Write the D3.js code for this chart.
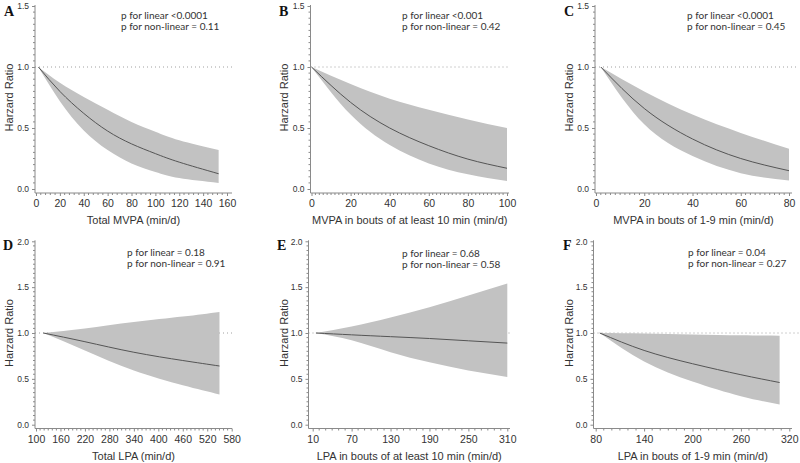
<!DOCTYPE html>
<html>
<head>
<meta charset="utf-8">
<script src="https://cdn.jsdelivr.net/npm/d3@7"></script>
<style>
  body { margin: 0; background: #fff; }
  svg { display: block; }
</style>
</head>
<body>
<svg id="chart" width="800" height="463"></svg>
<script>
// Data (hazard ratio curves with 95% CI)
const xA = [2, 20, 40, 60, 80, 100, 120, 153];
const hrA = [1.0, 0.80, 0.62, 0.475, 0.37, 0.29, 0.22, 0.125];
const upA = [1.0, 0.87, 0.755, 0.65, 0.55, 0.47, 0.40, 0.32];
const loA = [1.0, 0.72, 0.48, 0.32, 0.21, 0.14, 0.09, 0.05];

const xB = [0, 20, 40, 60, 80, 100];
const hrB = [1.0, 0.71, 0.50, 0.355, 0.245, 0.17];
const upB = [1.0, 0.86, 0.74, 0.65, 0.57, 0.50];
const loB = [1.0, 0.61, 0.36, 0.21, 0.12, 0.065];

const xC = [2, 20, 40, 60, 80];
const hrC = [1.0, 0.66, 0.41, 0.25, 0.15];
const upC = [1.0, 0.80, 0.61, 0.46, 0.33];
const loC = [1.0, 0.53, 0.27, 0.13, 0.07];

const xD = [118, 220, 340, 460, 550];
const hrD = [1.0, 0.905, 0.79, 0.70, 0.64];
const upD = [1.0, 1.05, 1.12, 1.18, 1.23];
const loD = [1.0, 0.81, 0.59, 0.43, 0.33];

const xE = [15, 70, 130, 190, 250, 310];
const hrE = [1.0, 0.98, 0.96, 0.94, 0.915, 0.89];
const upE = [1.0, 1.07, 1.17, 1.28, 1.41, 1.54];
const loE = [1.0, 0.92, 0.79, 0.68, 0.59, 0.52];

const xF = [85, 140, 200, 260, 308];
const hrF = [1.0, 0.81, 0.665, 0.545, 0.46];
const upF = [1.0, 0.995, 0.985, 0.975, 0.97];
const loF = [1.0, 0.69, 0.47, 0.31, 0.22];

// Tick labels
const xTicksA = [0, 20, 40, 60, 80, 100, 120, 140, 160];
const xTicksB = [0, 20, 40, 60, 80, 100];
const xTicksC = [0, 20, 40, 60, 80];
const xTicksD = [100, 160, 220, 280, 340, 400, 460, 520, 580];
const xTicksE = [10, 70, 130, 190, 250, 310];
const xTicksF = [80, 140, 200, 260, 320];
const yTicksTop = [0.0, 0.5, 1.0, 1.5];
const yTicksBottom = [0.0, 0.5, 1.0, 1.5, 2.0];

const letters = ['A', 'B', 'C', 'D', 'E', 'F'];
const xTitles = ['Total MVPA (min/d)', 'MVPA in bouts of at least 10 min (min/d)',
  'MVPA in bouts of 1-9 min (min/d)', 'Total LPA (min/d)',
  'LPA in bouts of at least 10 min (min/d)', 'LPA in bouts of 1-9 min (min/d)'];
const pLinear = ['p for linear <0.0001', 'p for linear <0.001', 'p for linear <0.0001',
  'p for linear = 0.18', 'p for linear = 0.68', 'p for linear = 0.04'];
const pNonLinear = ['p for non-linear = 0.11', 'p for non-linear = 0.42', 'p for non-linear = 0.45',
  'p for non-linear = 0.91', 'p for non-linear = 0.58', 'p for non-linear = 0.27'];

// Layout of each panel (pixels)
const panels = [
  { x: xA, hr: hrA, up: upA, lo: loA, xt: xTicksA, yt: yTicksTop, minor: 4,
    xr: [36, 227], yr: [189, 6], axisL: 35, axisR: 232, axisY: 193, dotEnd: 233,
    letterX: 4, letterY: 16, pX: 121, pY: 19, yTitleX: 13 },
  { x: xB, hr: hrB, up: upB, lo: loB, xt: xTicksB, yt: yTicksTop, minor: 2,
    xr: [311.5, 507], yr: [189, 6], axisL: 310.5, axisR: 509, axisY: 193, dotEnd: 510,
    letterX: 279, letterY: 16, pX: 402, pY: 19, yTitleX: 288 },
  { x: xC, hr: hrC, up: upC, lo: loC, xt: xTicksC, yt: yTicksTop, minor: 2,
    xr: [596, 789], yr: [189, 6], axisL: 595, axisR: 792, axisY: 193, dotEnd: 797,
    letterX: 564, letterY: 16, pX: 687, pY: 19, yTitleX: 573 },
  { x: xD, hr: hrD, up: upD, lo: loD, xt: xTicksD, yt: yTicksBottom, minor: 10,
    xr: [36, 231.7], yr: [424.7, 241.3], axisL: 35, axisR: 232, axisY: 428.5, dotEnd: 233,
    letterX: 3, letterY: 250, pX: 127, pY: 256, yTitleX: 13 },
  { x: xE, hr: hrE, up: upE, lo: loE, xt: xTicksE, yt: yTicksBottom, minor: 10,
    xr: [312.7, 507.3], yr: [424.7, 241.3], axisL: 308.5, axisR: 510, axisY: 428.5, dotEnd: 510,
    letterX: 277, letterY: 250, pX: 402, pY: 257, yTitleX: 288 },
  { x: xF, hr: hrF, up: upF, lo: loF, xt: xTicksF, yt: yTicksBottom, minor: 10,
    xr: [595.7, 789.3], yr: [424.7, 241.3], axisL: 593.5, axisR: 792, axisY: 428.5, dotEnd: 800,
    letterX: 563, letterY: 250, pX: 688, pY: 256, yTitleX: 573 }
];

const svg = d3.select('#chart');
const axisColor = '#8a8a8a';
const textColor = '#333';
const sans = 'Liberation Sans, Arial, sans-serif';

panels.forEach((p, i) => {
  const g = svg.append('g');
  const xScale = d3.scaleLinear().domain([p.xt[0], p.xt[p.xt.length - 1]]).range(p.xr);
  const yMax = p.yt[p.yt.length - 1];
  const yScale = d3.scaleLinear().domain([0, yMax]).range(p.yr);
  const pts = p.x.map((v, k) => ({ x: v, hr: p.hr[k], up: p.up[k], lo: p.lo[k] }));

  // reference line at HR = 1
  g.append('line')
    .attr('x1', p.axisL).attr('x2', p.dotEnd)
    .attr('y1', yScale(1)).attr('y2', yScale(1))
    .attr('stroke', '#a0a0a0').attr('stroke-width', 1)
    .attr('stroke-dasharray', '1,3');

  // confidence band
  const band = d3.area()
    .x(d => xScale(d.x))
    .y0(d => yScale(d.lo))
    .y1(d => yScale(d.up))
    .curve(d3.curveNatural);
  g.append('path').datum(pts).attr('d', band).attr('fill', '#c2c2c2');

  // estimate curve
  const line = d3.line()
    .x(d => xScale(d.x))
    .y(d => yScale(d.hr))
    .curve(d3.curveNatural);
  g.append('path').datum(pts).attr('d', line)
    .attr('fill', 'none').attr('stroke', '#555').attr('stroke-width', 1);

  // axis lines
  g.append('line').attr('x1', p.axisL).attr('x2', p.axisR)
    .attr('y1', p.axisY).attr('y2', p.axisY)
    .attr('stroke', axisColor).attr('stroke-width', 1);
  g.append('line').attr('x1', p.axisL).attr('x2', p.axisL)
    .attr('y1', yScale(yMax) - 1).attr('y2', p.axisY)
    .attr('stroke', axisColor).attr('stroke-width', 1);

  // x axis ticks
  const xAxis = d3.axisBottom(xScale).tickValues(p.xt).tickSize(3).tickSizeOuter(0)
    .tickFormat(d3.format('d'));
  const xg = g.append('g').attr('transform', `translate(0,${p.axisY})`).call(xAxis);
  xg.select('.domain').remove();
  xg.selectAll('.tick line').attr('stroke', axisColor);
  xg.selectAll('.tick text').attr('fill', textColor)
    .attr('font-family', sans).attr('font-size', 10.5).attr('dy', '0.8em');

  const xMinor = d3.range(p.xt[0], p.xt[p.xt.length - 1] + 1e-6, p.minor)
    .filter(v => !p.xt.includes(v));
  g.selectAll(null).data(xMinor).enter().append('line')
    .attr('x1', d => xScale(d)).attr('x2', d => xScale(d))
    .attr('y1', p.axisY).attr('y2', p.axisY + 2)
    .attr('stroke', axisColor).attr('stroke-width', 1);

  // y axis ticks
  const yAxis = d3.axisLeft(yScale).tickValues(p.yt).tickSize(3).tickSizeOuter(0)
    .tickFormat(d3.format('.1f'));
  const yg = g.append('g').attr('transform', `translate(${p.axisL},0)`).call(yAxis);
  yg.select('.domain').remove();
  yg.selectAll('.tick line').attr('stroke', axisColor);
  yg.selectAll('.tick text').attr('fill', textColor)
    .attr('font-family', sans).attr('font-size', 8.5);

  const yMinor = d3.range(0, yMax + 1e-6, 0.05)
    .filter(v => !p.yt.some(t => Math.abs(t - v) < 1e-6));
  g.selectAll(null).data(yMinor).enter().append('line')
    .attr('x1', p.axisL - 2).attr('x2', p.axisL)
    .attr('y1', d => yScale(d)).attr('y2', d => yScale(d))
    .attr('stroke', axisColor).attr('stroke-width', 1);

  // titles
  g.append('text')
    .attr('x', (p.axisL + p.axisR) / 2).attr('y', p.axisY + 31)
    .attr('text-anchor', 'middle').attr('fill', textColor)
    .attr('font-family', sans).attr('font-size', 11)
    .text(xTitles[i]);
  const yMid = (p.yr[0] + p.yr[1]) / 2;
  g.append('text')
    .attr('transform', `translate(${p.yTitleX},${yMid}) rotate(-90)`)
    .attr('text-anchor', 'middle').attr('fill', textColor)
    .attr('font-family', sans).attr('font-size', 11)
    .text('Harzard Ratio');

  // panel letter
  g.append('text')
    .attr('x', p.letterX).attr('y', p.letterY)
    .attr('fill', '#111').attr('font-weight', 'bold')
    .attr('font-family', 'Liberation Serif, Times New Roman, serif').attr('font-size', 14)
    .text(letters[i]);

  // p-values
  g.append('text').attr('x', p.pX).attr('y', p.pY)
    .attr('fill', textColor).attr('font-family', 'Lato, sans-serif').attr('font-size', 10)
    .text(pLinear[i]);
  g.append('text').attr('x', p.pX).attr('y', p.pY + 11)
    .attr('fill', textColor).attr('font-family', 'Lato, sans-serif').attr('font-size', 10)
    .text(pNonLinear[i]);
});
</script>
</body>
</html>
